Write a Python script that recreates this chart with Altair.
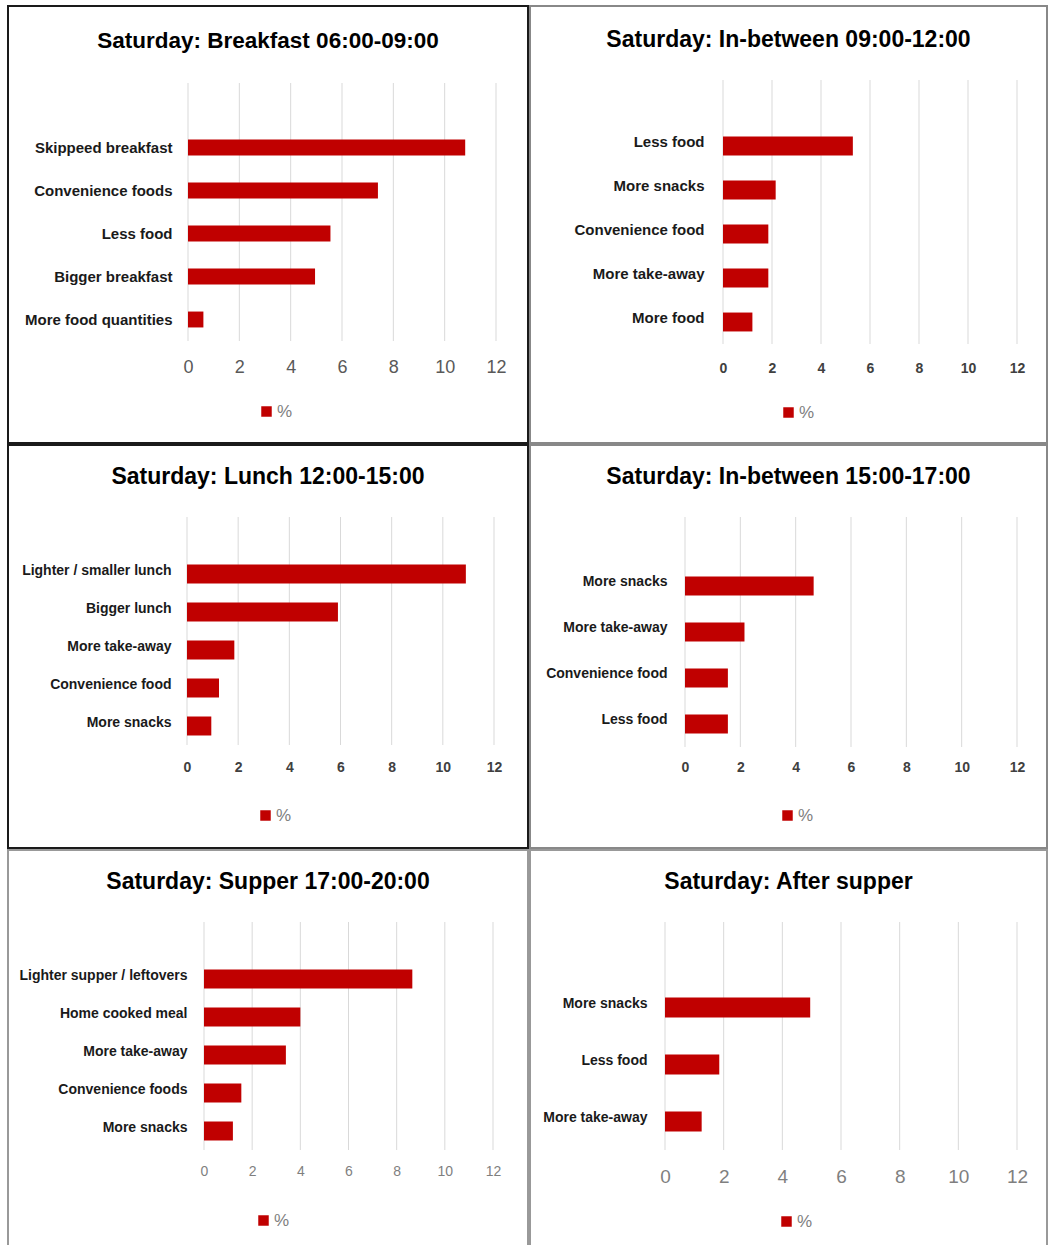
import altair as alt
import pandas as pd

# ---------------- data ----------------
p1_title = "Saturday: Breakfast 06:00-09:00"
p1_cats = ["Skippeed breakfast", "Convenience foods", "Less food", "Bigger breakfast", "More food quantities"]
p1_vals = [10.8, 7.4, 5.55, 4.95, 0.6]

p2_title = "Saturday: In-between 09:00-12:00"
p2_cats = ["Less food", "More snacks", "Convenience food", "More take-away", "More food"]
p2_vals = [5.3, 2.15, 1.85, 1.85, 1.2]

p3_title = "Saturday: Lunch 12:00-15:00"
p3_cats = ["Lighter / smaller lunch", "Bigger lunch", "More take-away", "Convenience food", "More snacks"]
p3_vals = [10.9, 5.9, 1.85, 1.25, 0.95]

p4_title = "Saturday: In-between 15:00-17:00"
p4_cats = ["More snacks", "More take-away", "Convenience  food", "Less food"]
p4_vals = [4.65, 2.15, 1.55, 1.55]

p5_title = "Saturday: Supper 17:00-20:00"
p5_cats = ["Lighter supper / leftovers", "Home cooked meal", "More take-away", "Convenience foods", "More snacks"]
p5_vals = [8.65, 4.0, 3.4, 1.55, 1.2]

p6_title = "Saturday: After supper"
p6_cats = ["More snacks", "Less food", "More take-away"]
p6_vals = [4.95, 1.85, 1.25]

series_name = "%"
x_ticks = [0, 2, 4, 6, 8, 10, 12]

FONT = "Liberation Sans"
RED = "#C00000"


def panel(title, cats, vals, st):
    df = pd.DataFrame({"cat": cats, "val": vals, "series": [series_name] * len(cats)})
    grid_df = pd.DataFrame({"tick": x_ticks})
    title_df = pd.DataFrame({"t": [title]})
    domain = [" "] + cats
    pI = st["pI"]
    xscale = alt.Scale(domain=[0, 12], range=st["xr"], nice=False, zero=True)
    xaxis = alt.Axis(
        values=x_ticks, title=None, domain=False, ticks=False, tickSize=0,
        grid=False, offset=st["yr"][1] - st["H"], labelPadding=st["xpad"], labelBaseline="middle",
        labelFlush=False, labelFont=FONT, labelFontSize=st["xsize"],
        labelFontWeight=st["xweight"], labelColor=st["xcolor"],
    )

    grid = alt.Chart(grid_df).mark_rule(color="#d9d9d9", strokeWidth=1).encode(
        x=alt.X("tick:Q", scale=xscale, axis=xaxis),
        y=alt.value(st["yr"][0]),
        y2=alt.value(st["yr"][1]),
    )

    bars = alt.Chart(df).mark_bar(color=RED, strokeWidth=0).encode(
        x=alt.X("val:Q", scale=xscale, axis=xaxis),
        y=alt.Y(
            "cat:N",
            sort=domain,
            scale=alt.Scale(domain=domain, range=st["yr"], paddingInner=pI, paddingOuter=pI / 2),
            axis=alt.Axis(
                title=None, domain=False, ticks=False, tickSize=0, grid=False,
                offset=-st["xr"][0], labelPadding=st["ypad"], labelLimit=400,
                labelFont=FONT, labelFontSize=st["ysize"], labelFontWeight="bold",
                labelColor="#1a1a1a", labelOffset=st["yoff"],
            ),
        ),
        color=alt.Color(
            "series:N",
            scale=alt.Scale(domain=[series_name], range=[RED]),
            legend=alt.Legend(
                title=None, orient="none", legendX=st["lx"], legendY=st["ly"], padding=0,
                symbolType="square", symbolSize=110, symbolStrokeWidth=0,
                labelFont=FONT, labelFontSize=17, labelColor="#808080", labelOffset=2,
            ),
        ),
    )

    head = alt.Chart(title_df).mark_text(
        font=FONT, fontSize=st["tsize"], fontWeight="bold", color="#000000",
        align="center", baseline="middle",
    ).encode(
        text="t:N",
        x=alt.value(st["W"] / 2),
        y=alt.value(st["ty"]),
    )

    return alt.layer(grid, bars, head).properties(
        width=st["W"], height=st["H"],
        view=alt.ViewBackground(stroke=st["stroke"], strokeWidth=2, fill="white"),
    )


s1 = dict(W=520, H=437, xr=[180, 488], yr=[77, 335], pI=0.63, ypad=16, ysize=15, yoff=0,
          xpad=26, xsize=18, xweight="normal", xcolor="#595959",
          ty=35, tsize=22.5, lx=250, ly=397, stroke="#1a1a1a")
s2 = dict(W=517, H=437, xr=[193, 487], yr=[74, 338], pI=0.57, ypad=19, ysize=15, yoff=-4,
          xpad=24, xsize=14, xweight="bold", xcolor="#404040",
          ty=34, tsize=23, lx=250, ly=398, stroke="#888888")
s3 = dict(W=520, H=403, xr=[179, 486], yr=[72, 300], pI=0.5, ypad=16, ysize=14, yoff=-3,
          xpad=22, xsize=14, xweight="bold", xcolor="#404040",
          ty=32, tsize=23, lx=249, ly=362, stroke="#1a1a1a")
s4 = dict(W=517, H=403, xr=[155, 487], yr=[72, 302], pI=0.59, ypad=18, ysize=14, yoff=-4,
          xpad=20, xsize=14, xweight="bold", xcolor="#404040",
          ty=32, tsize=23, lx=249, ly=362, stroke="#888888")
s5 = dict(W=520, H=402, xr=[196, 485], yr=[72, 300], pI=0.5, ypad=17, ysize=14, yoff=-3,
          xpad=21, xsize=14, xweight="normal", xcolor="#7f7f7f",
          ty=32, tsize=23, lx=247, ly=362, stroke="#999999")
s6 = dict(W=517, H=402, xr=[135, 487], yr=[72, 300], pI=0.65, ypad=18, ysize=14, yoff=-4,
          xpad=26, xsize=19, xweight="normal", xcolor="#7f7f7f",
          ty=32, tsize=23, lx=248, ly=363, stroke="#999999")

c1 = panel(p1_title, p1_cats, p1_vals, s1)
c2 = panel(p2_title, p2_cats, p2_vals, s2)
c3 = panel(p3_title, p3_cats, p3_vals, s3)
c4 = panel(p4_title, p4_cats, p4_vals, s4)
c5 = panel(p5_title, p5_cats, p5_vals, s5)
c6 = panel(p6_title, p6_cats, p6_vals, s6)


def row(a, b):
    return alt.hconcat(a, b, spacing=0).resolve_scale(color="independent").resolve_legend(color="independent")


chart = alt.vconcat(row(c1, c2), row(c3, c4), row(c5, c6), spacing=0).resolve_scale(
    color="independent"
).resolve_legend(color="independent").properties(
    padding={"left": 7, "top": 5, "right": 0, "bottom": 0},
    background="white",
)

chart.save("out.html", embed_options={"renderer": "svg", "actions": False})
